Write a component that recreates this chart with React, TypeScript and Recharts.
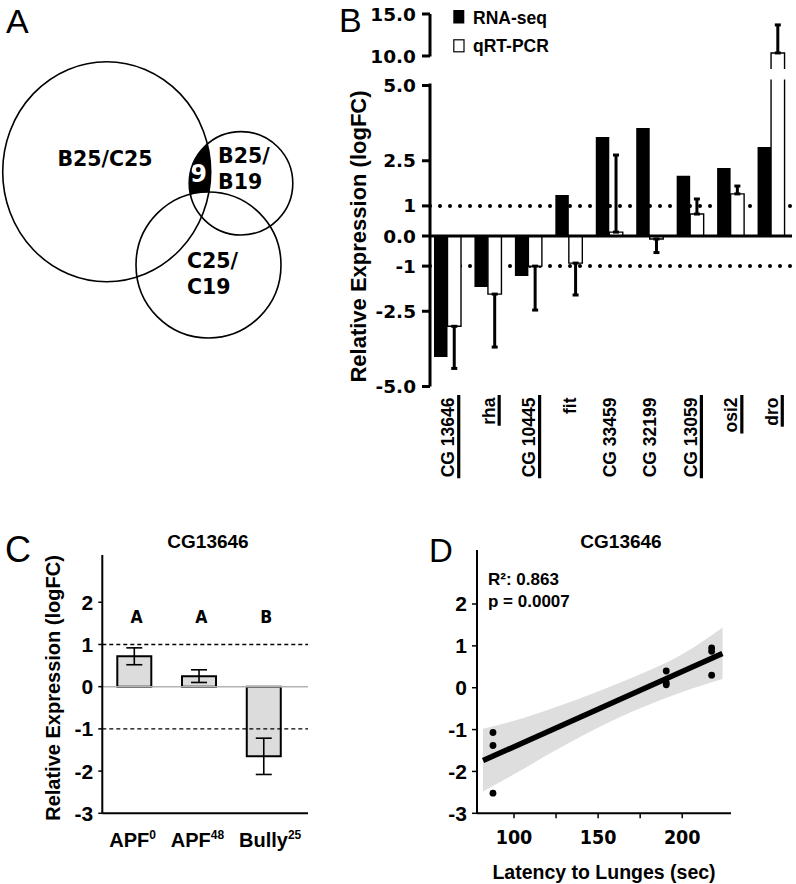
import React from 'react';
import {
  ScatterChart, Scatter, XAxis, YAxis, BarChart, Bar, ErrorBar, ReferenceLine,
  ComposedChart, Area, Line,
} from 'recharts';

const FONT = "'Liberation Sans', Arial, Helvetica, sans-serif";
const NARROW = "'Liberation Sans Narrow', 'DejaVu Sans Condensed', 'Liberation Sans', sans-serif";
const DEJAVU = "'DejaVu Sans', 'Liberation Sans', sans-serif";

// ---------------- Panel A : Venn diagram ----------------
const vennSets = ['B25/C25', 'B25/B19', 'C25/C19'];
const vennLabelLines = [['B25/C25'], ['B25/', 'B19'], ['C25/', 'C19']];
const vennCenterX = [106.7, 241, 208.5];
const vennCenterY = [171.7, 183.3, 265];
const vennRadiusX = [104, 51.8, 72.5];
const vennRadiusY = [110, 51.7, 73];
const vennOverlapCount = 9;
const vennOverlapCenter = [198.5, 174];

// ---------------- Panel B : RNA-seq vs qRT-PCR ----------------
const geneNames = ['CG 13646', 'rha', 'CG 10445', 'fit', 'CG 33459', 'CG 32199', 'CG 13059', 'osi2', 'dro'];
const geneUnderlined = [true, true, true, false, false, false, true, true, true];
const rnaSeqLogFC = [-4.02, -1.69, -1.33, 1.36, 3.29, 3.59, 2.0, 2.26, 2.96];
const qrtPcrLogFC = [-3.0, -1.93, -1.0, -0.9, 0.13, -0.1, 0.73, 1.4, 10.36];
const qrtPcrError = [1.4, 1.76, 1.46, 1.06, 2.56, 0.45, 0.5, 0.26, 3.34];
const bLowerTicks = [-5, -2.5, -1, 0, 1, 2.5, 5];
const bLowerTickLabels = ['-5.0', '-2.5', '-1', '0.0', '1', '2.5', '5.0'];
const bUpperTicks = [10, 15];
const bUpperTickLabels = ['10.0', '15.0'];
const bThresholds = [1, -1];
const bLowerDomain = [-5, 5.2];
const bUpperDomain = [8.45, 15];

// ---------------- Panel C : CG13646 by group ----------------
const cGroupKeys = ['APF0', 'APF48', 'Bully25'];
const cGroupNames = ['APF', 'APF', 'Bully'];
const cGroupSup = ['0', '48', '25'];
const cLogFC = [0.72, 0.25, -1.65];
const cError = [0.2, 0.15, 0.43];
const cSigLetters = ['A', 'A', 'B'];
const cSigLevel = 1.64;
const cTicks = [-3, -2, -1, 0, 1, 2];
const cThresholds = [1, -1];
const cDomain = [-3, 3.12];

// ---------------- Panel D : regression ----------------
const dLatency = [87.5, 87.5, 87.5, 190.5, 190.5, 190.5, 217.5, 217.5, 217.5];
const dLogFC = [-1.07, -1.38, -2.52, 0.4, 0.12, 0.07, 0.95, 0.87, 0.3];
const dFitLatency = [81.6, 223.9];
const dFitLogFC = [-1.74, 0.82];
const dBandLatency = [81.5, 100, 125, 150, 175, 200, 224];
const dBandLow = [-2.48, -2.07, -1.49, -0.95, -0.49, -0.1, 0.21];
const dBandHigh = [-0.98, -0.79, -0.46, -0.09, 0.32, 0.8, 1.44];
const dXTicks = [100, 125, 150, 175, 200];
const dXTickLabels = ['100', '', '150', '', '200'];
const dYTicks = [-3, -2, -1, 0, 1, 2];
const dXDomain = [78, 229];
const dYDomain = [-3, 3.29];

// ---------- derived tables ----------
const vennData = vennSets.map((s, i) => ({
  set: s, x: vennCenterX[i], y: vennCenterY[i], rx: vennRadiusX[i], ry: vennRadiusY[i], idx: i,
}));
const vennOverlapData = [{ x: vennOverlapCenter[0], y: vennOverlapCenter[1], n: vennOverlapCount }];

const bLowerData = geneNames.map((g, i) => {
  const v = qrtPcrLogFC[i];
  const inRange = v >= bLowerDomain[0] && v <= bLowerDomain[1];
  return {
    gene: g,
    rna: rnaSeqLogFC[i],
    qrt: v,
    qrtErr: inRange ? (v >= 0 ? [0, qrtPcrError[i]] : [qrtPcrError[i], 0]) : null,
  };
});
const bUpperData = geneNames.map((g, i) => {
  const v = qrtPcrLogFC[i];
  const inRange = v > bUpperDomain[0];
  return {
    gene: g,
    rna: null,
    qrt: inRange ? v : null,
    qrtErr: inRange ? [0, qrtPcrError[i]] : null,
  };
});

const cData = cGroupKeys.map((k, i) => ({
  key: k, v: cLogFC[i], err: cError[i], sig: cSigLevel, letter: cSigLetters[i],
}));

const dPoints = dLatency.map((x, i) => ({ x, y: dLogFC[i] }));
const dFit = dFitLatency.map((x, i) => ({ x, fit: dFitLogFC[i] }));
const dBand = dBandLatency.map((x, i) => ({ x, band: [dBandLow[i], dBandHigh[i]] }));

// label layout offsets for the Venn (relative to each set centre)
const VENN_LABEL_LAYOUT = [
  { dx: -1.7, dy: [-12.7], anchor: 'middle' },
  { dx: -23, dy: [-27.3, -1.8], anchor: 'start' },
  { dx: -21.5, dy: [-4, 22], anchor: 'start' },
];

let measureCtx: CanvasRenderingContext2D | null = null;
function textWidth(s: string, font: string): number {
  if (!measureCtx) {
    const c = document.createElement('canvas');
    measureCtx = c.getContext('2d');
  }
  if (!measureCtx) return s.length * 9;
  measureCtx.font = font;
  return measureCtx.measureText(s).width;
}

function VennSetShape(p: any) {
  const { cx, cy, payload } = p;
  const i = payload.idx;
  const lay = VENN_LABEL_LAYOUT[i];
  return (
    <g>
      <defs>
        <ellipse id={`venn-set-${i}`} cx={cx} cy={cy} rx={payload.rx} ry={payload.ry} />
      </defs>
      <ellipse cx={cx} cy={cy} rx={payload.rx} ry={payload.ry} fill="none" stroke="#000" strokeWidth={1.6} />
      {vennLabelLines[i].map((line, j) => (
        <text key={j} x={cx + lay.dx} y={cy + lay.dy[j]} textAnchor={lay.anchor as any}
          dominantBaseline="central" fontFamily={DEJAVU} fontWeight={700} fontSize={20.5} fill="#000">
          {line}
        </text>
      ))}
    </g>
  );
}

function VennOverlapShape(p: any) {
  const { cx, cy, payload } = p;
  return (
    <g>
      <defs>
        <clipPath id="venn-clip-a"><use href="#venn-set-0" /></clipPath>
        <mask id="venn-mask-c" maskUnits="userSpaceOnUse" x={0} y={0} width={2000} height={2000}>
          <rect x={0} y={0} width={2000} height={2000} fill="#fff" />
          <use href="#venn-set-2" fill="#000" />
        </mask>
      </defs>
      <use href="#venn-set-1" fill="#000" clipPath="url(#venn-clip-a)" mask="url(#venn-mask-c)" />
      <text x={cx} y={cy} textAnchor="middle" dominantBaseline="central" fontFamily={DEJAVU}
        fontWeight={700} fontSize={24} fill="#fff">{payload.n}</text>
    </g>
  );
}

function OpenBar(props: any) {
  const { x, y, width, height, payload } = props;
  if (!payload || payload.qrt == null || !isFinite(y) || !isFinite(height) || !isFinite(x)) return null;
  const pos = payload.qrt >= 0;
  const top = Math.min(y, y + height);
  const bottom = Math.max(y, y + height);
  const far = pos ? top : bottom;
  const base = pos ? bottom : top;
  return (
    <g>
      <rect x={x} y={top} width={width} height={bottom - top} fill="#fff" />
      <path d={`M${x},${base}L${x},${far}L${x + width},${far}L${x + width},${base}`}
        fill="none" stroke="#000" strokeWidth={1.4} />
    </g>
  );
}

const GENE_FONT_SIZE = 17.5;
function GeneTick(props: any) {
  const { x, y, payload } = props;
  const i = geneNames.indexOf(payload.value);
  const bx = x + 7;
  const w = textWidth(String(payload.value), `bold ${GENE_FONT_SIZE}px 'Liberation Sans'`);
  return (
    <g>
      <text transform={`translate(${bx},${y}) rotate(-90)`} textAnchor="end" fontSize={GENE_FONT_SIZE}
        fontWeight={700} fontFamily={FONT} fill="#000">
        {payload.value}
      </text>
      {geneUnderlined[i] ? (
        <line x1={bx + 4.5} x2={bx + 4.5} y1={y - 2.5} y2={y + w + 1} stroke="#000" strokeWidth={3.2} />
      ) : null}
    </g>
  );
}

function GroupTick(props: any) {
  const { x, y, payload } = props;
  const i = cGroupKeys.indexOf(payload.value);
  return (
    <text x={x + (i === 2 ? 6 : -2)} y={y + 34} textAnchor="middle" fontSize={20} fontWeight={700} fontFamily={FONT} fill="#000">
      {cGroupNames[i]}
      <tspan dy={-8} fontSize={12}>{cGroupSup[i]}</tspan>
    </text>
  );
}

function SigLetter(p: any) {
  const { cx, cy, payload } = p;
  return (
    <text x={cx + 2} y={cy} textAnchor="middle" dominantBaseline="central" fontFamily={NARROW}
      fontWeight={700} fontSize={17.5} fill="#000">{payload.letter}</text>
  );
}

function Dot(p: any) {
  return <circle cx={p.cx} cy={p.cy} r={3.4} fill="#000" />;
}

const bTickStyle = { fill: '#000', fontSize: 18.5, fontWeight: 700, fontFamily: DEJAVU };
const cTickStyle = { fill: '#000', fontSize: 21, fontWeight: 700, fontFamily: FONT };

const abs = (left: number, top: number): React.CSSProperties => ({ position: 'absolute', left, top });

export default function App() {
  return (
    <div style={{ position: 'absolute', left: 0, top: 0, width: 796, height: 884, background: '#fff', overflow: 'hidden' }}>
      {/* Panel A */}
      <div style={abs(0, 0)}>
        <ScatterChart width={300} height={340} margin={{ top: 0, right: 0, bottom: 0, left: 0 }}>
          <XAxis type="number" dataKey="x" domain={[0, 300]} hide />
          <YAxis type="number" dataKey="y" domain={[0, 340]} reversed hide />
          <Scatter data={vennOverlapData} shape={VennOverlapShape} isAnimationActive={false} />
          <Scatter data={vennData} shape={VennSetShape} isAnimationActive={false} />
        </ScatterChart>
      </div>

      {/* Panel B upper (broken axis part) */}
      <div style={abs(340, 0)}>
        <BarChart width={456} height={69} data={bUpperData} barGap={0}
          margin={{ top: 14, right: 4, bottom: 0, left: 0 }}>
          <XAxis dataKey="gene" type="category" hide padding={{ left: -3, right: 1 }} />
          <YAxis type="number" domain={bUpperDomain} ticks={bUpperTicks} allowDataOverflow interval={0}
            width={90} tick={bTickStyle} tickSize={8} tickMargin={6}
            tickFormatter={(v: number) => bUpperTickLabels[bUpperTicks.indexOf(v)]}
            tickLine={{ stroke: '#000', strokeWidth: 3 }}
            axisLine={{ stroke: '#000', strokeWidth: 3, strokeDasharray: '42.5 300' }} />
          <Bar dataKey="rna" fill="#000" barSize={13.5} isAnimationActive={false} />
          <Bar dataKey="qrt" barSize={13.5} shape={OpenBar} isAnimationActive={false}>
            <ErrorBar dataKey="qrtErr" width={3} strokeWidth={3} stroke="#000" direction="y" />
          </Bar>
        </BarChart>
      </div>

      {/* Panel B lower */}
      <div style={abs(340, 60)}>
        <BarChart width={456} height={440} data={bLowerData} barGap={0}
          margin={{ top: 19.5, right: 4, bottom: 0, left: 0 }}>
          {bThresholds.map((t) => (
            <ReferenceLine key={t} y={t} stroke="#000" strokeWidth={4} strokeDasharray="0 10"
              strokeLinecap="round" zIndex={50} />
          ))}
          <XAxis dataKey="gene" type="category" padding={{ left: -3, right: 1 }} height={113.5}
            axisLine={false} tickLine={false} tickSize={0} tickMargin={11} interval={0} tick={GeneTick} />
          <YAxis type="number" domain={bLowerDomain} ticks={bLowerTicks} allowDataOverflow interval={0}
            width={90} tick={bTickStyle} tickSize={8} tickMargin={6}
            tickFormatter={(v: number) => bLowerTickLabels[bLowerTicks.indexOf(v)]}
            tickLine={{ stroke: '#000', strokeWidth: 3 }}
            axisLine={{ stroke: '#000', strokeWidth: 3, strokeDasharray: '0 4 400' }} />
          <Bar dataKey="rna" fill="#000" barSize={13.5} isAnimationActive={false} />
          <Bar dataKey="qrt" barSize={13.5} shape={OpenBar} isAnimationActive={false}>
            <ErrorBar dataKey="qrtErr" width={3} strokeWidth={3} stroke="#000" direction="y" />
          </Bar>
          <ReferenceLine y={0} stroke="#000" strokeWidth={3} zIndex={700} />
        </BarChart>
      </div>

      {/* Panel C */}
      <div style={abs(0, 530)}>
        <ComposedChart width={330} height={354} data={cData}
          margin={{ top: 25, right: 22, bottom: 0, left: 0 }}>
          <XAxis dataKey="key" type="category" padding={{ left: 0, right: 11.5 }} height={70.7}
            axisLine={{ stroke: '#000', strokeWidth: 2 }} tickLine={false} tickSize={0} tickMargin={0}
            interval={0} tick={GroupTick} />
          <YAxis type="number" domain={cDomain} ticks={cTicks} allowDataOverflow interval={0}
            width={102.3} tick={cTickStyle} tickSize={4} tickMargin={5}
            tickLine={{ stroke: '#000', strokeWidth: 1.5 }}
            axisLine={{ stroke: '#000', strokeWidth: 2 }} />
          {cThresholds.map((t) => (
            <ReferenceLine key={t} y={t} stroke="#000" strokeWidth={1.3} strokeDasharray="4 3" />
          ))}
          <ReferenceLine y={0} stroke="#b3b3b3" strokeWidth={1.5} />
          <Bar dataKey="v" barSize={34} fill="#dcdcdc" stroke="#000" strokeWidth={2} isAnimationActive={false}>
            <ErrorBar dataKey="err" width={8} strokeWidth={1.6} stroke="#000" direction="y" />
          </Bar>
          <Scatter dataKey="sig" shape={SigLetter} isAnimationActive={false} />
        </ComposedChart>
      </div>

      {/* Panel D */}
      <div style={abs(380, 520)}>
        <ComposedChart width={416} height={364} margin={{ top: 30, right: 65, bottom: 0, left: 0 }}>
          <XAxis type="number" dataKey="x" domain={dXDomain} ticks={dXTicks} allowDataOverflow interval={0}
            height={70.7} tickFormatter={(v: number) => dXTickLabels[dXTicks.indexOf(v)]}
            tick={{ fill: '#000', fontSize: 19.5, fontWeight: 700, fontFamily: NARROW }}
            tickSize={5} tickMargin={12}
            tickLine={{ stroke: '#000', strokeWidth: 1.5 }}
            axisLine={{ stroke: '#000', strokeWidth: 2 }} />
          <YAxis type="number" domain={dYDomain} ticks={dYTicks} allowDataOverflow interval={0}
            width={97} tick={cTickStyle} tickSize={5} tickMargin={5}
            tickLine={{ stroke: '#000', strokeWidth: 1.5 }}
            axisLine={{ stroke: '#000', strokeWidth: 2 }} />
          <Area data={dBand} dataKey="band" type="monotone" fill="#dedede" fillOpacity={1} stroke="none"
            isAnimationActive={false} dot={false} activeDot={false} />
          <Line data={dFit} dataKey="fit" type="linear" stroke="#000" strokeWidth={5.5} dot={false}
            activeDot={false} isAnimationActive={false} />
          <Scatter data={dPoints} dataKey="y" shape={Dot} isAnimationActive={false} />
        </ComposedChart>
      </div>

      {/* Text overlay: panel letters, titles, axis titles, legend, stats */}
      <svg width={796} height={884} style={{ position: 'absolute', left: 0, top: 0, pointerEvents: 'none' }}>
        <g fontFamily={FONT} fill="#000">
          <text x={6} y={33} fontSize={34}>A</text>
          <text x={339} y={32} fontSize={34}>B</text>
          <text x={5} y={562} fontSize={36}>C</text>
          <text x={429} y={562} fontSize={33}>D</text>

          <rect x={453.3} y={10} width={11} height={13.5} fill="#000" />
          <text x={473} y={24} fontSize={17.5} fontWeight={700}>RNA-seq</text>
          <rect x={453.8} y={39.8} width={10.2} height={12} fill="#fff" stroke="#000" strokeWidth={1.2} />
          <text x={473} y={52} fontSize={17.5} fontWeight={700}>qRT-PCR</text>

          <text transform="translate(366,236.5) rotate(-90)" textAnchor="middle" fontSize={22} fontWeight={700}>
            Relative Expression (logFC)
          </text>
          <text transform="translate(60,688) rotate(-90)" textAnchor="middle" fontSize={20} fontWeight={700}>
            Relative Expression (logFC)
          </text>

          <text x={208} y={548} textAnchor="middle" fontSize={19} fontWeight={700}>CG13646</text>
          <text x={621} y={548} textAnchor="middle" fontSize={19} fontWeight={700}>CG13646</text>

          <text x={488} y={585} fontSize={17} fontWeight={700}>R²: 0.863</text>
          <text x={488} y={606.5} fontSize={17} fontWeight={700}>p = 0.0007</text>

          <text x={604} y={879} textAnchor="middle" fontSize={19.5} fontWeight={700}>Latency to Lunges (sec)</text>
        </g>
      </svg>
    </div>
  );
}
